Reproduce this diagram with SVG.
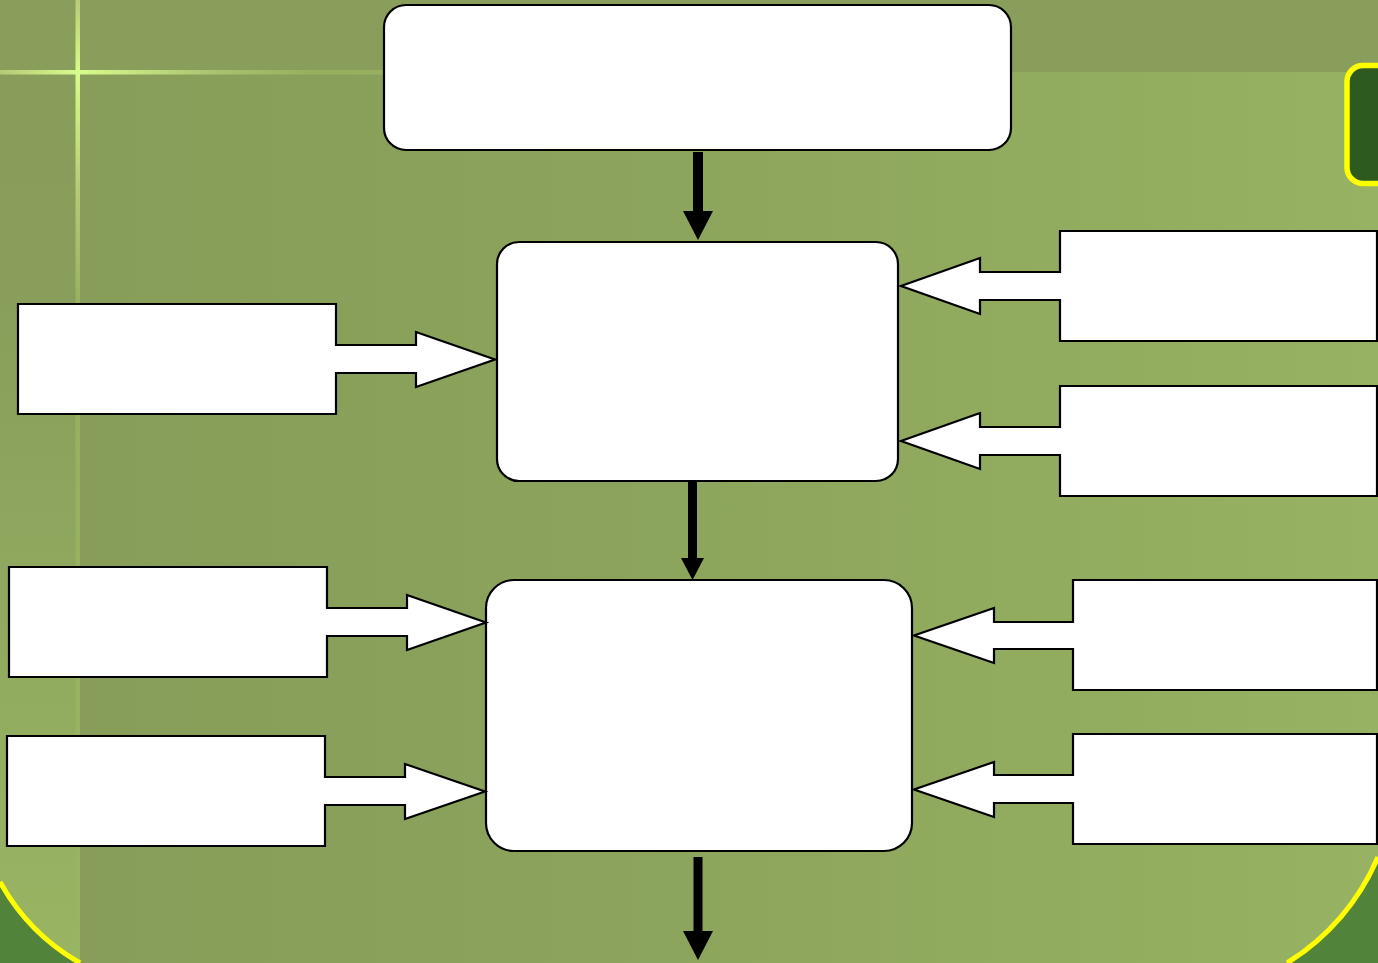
<svg xmlns="http://www.w3.org/2000/svg" width="1378" height="963" viewBox="0 0 1378 963">
<style>
.node{fill:#FFFFFF;stroke:#000000;stroke-width:2.2;stroke-linejoin:miter}
.rnode{fill:#FFFFFF;stroke:#000000;stroke-width:2.2}
.yel{fill:none;stroke:#FFFF00;stroke-width:5}
.shaft{fill:#000000}
</style>
<defs>
<linearGradient id="gMain" gradientUnits="userSpaceOnUse" x1="75" y1="0" x2="1378" y2="0">
<stop offset="0" stop-color="#879D59"/>
<stop offset="0.4" stop-color="#8BA35B"/>
<stop offset="1" stop-color="#97B262"/>
</linearGradient>
<linearGradient id="gLeft" gradientUnits="userSpaceOnUse" x1="0" y1="72" x2="0" y2="963">
<stop offset="0" stop-color="#879D59"/>
<stop offset="0.25" stop-color="#889E5A"/>
<stop offset="1" stop-color="#99B563"/>
</linearGradient>
<linearGradient id="gHLine" gradientUnits="userSpaceOnUse" x1="0" y1="0" x2="390" y2="0">
<stop offset="0" stop-color="#B5C977"/>
<stop offset="0.2" stop-color="#D8FC8C"/>
<stop offset="0.55" stop-color="#A9C271"/>
<stop offset="0.8" stop-color="#96B060"/>
<stop offset="1" stop-color="#96B060"/>
</linearGradient>
<linearGradient id="gVLine" gradientUnits="userSpaceOnUse" x1="0" y1="0" x2="0" y2="963">
<stop offset="0" stop-color="#B8CB78"/>
<stop offset="0.075" stop-color="#D8FC8C"/>
<stop offset="0.2" stop-color="#B5C977"/>
<stop offset="0.32" stop-color="#96B060"/>
<stop offset="1" stop-color="#99B463"/>
</linearGradient>
</defs>

<g id="background">
<rect x="0" y="0" width="1378" height="963" fill="#52833A"/>
<path d="M0 0 H1378 V857 A230 230 0 0 1 1287 963 H80 A210 210 0 0 1 0 882 Z" fill="url(#gMain)"/>
<path d="M0 72 H77 V963 H80 A210 210 0 0 1 0 882 Z" fill="url(#gLeft)"/>
<rect x="0" y="0" width="1378" height="72" fill="#889E5A"/>
<rect x="0" y="70" width="390" height="4.5" fill="url(#gHLine)"/>
<rect x="75.5" y="0" width="4.5" height="963" fill="url(#gVLine)"/>
<path class="yel" d="M0 882 A210 210 0 0 0 80 963"/>
<path class="yel" d="M1378 857 A230 230 0 0 1 1287 963"/>
<rect x="1347" y="65.5" width="100" height="118" rx="16" fill="#2D5A1E" stroke="#FFFF00" stroke-width="5.5"/>
</g>

<g id="connectors">
<rect class="shaft" x="693" y="152" width="10" height="60"/>
<polygon class="shaft" points="683,211 713,211 698,240"/>
<rect class="shaft" x="688" y="478" width="9" height="81"/>
<polygon class="shaft" points="681,558 704,558 692.5,580"/>
<rect class="shaft" x="693.5" y="857" width="9" height="76"/>
<polygon class="shaft" points="683,931 713,931 698,960"/>
</g>

<g id="node-top"><rect class="rnode" x="384" y="5" width="627" height="145" rx="22"/></g>
<g id="node-mid"><rect class="rnode" x="497" y="242" width="401" height="239" rx="22"/></g>
<g id="node-bottom"><rect class="rnode" x="486" y="580" width="426" height="271" rx="28"/></g>

<g id="input-left-1"><path class="node" d="M18 304 H336 V345 H416 V332 L495 359.5 L416 387 V373 H336 V414 H18 Z"/></g>
<g id="input-right-1"><path class="node" d="M1377 231 H1060 V272 H980 V258 L901 286 L980 314 V300 H1060 V341 H1377 Z"/></g>
<g id="input-right-2"><path class="node" d="M1377 386 H1060 V427 H980 V413 L901 441 L980 469 V455 H1060 V496 H1377 Z"/></g>
<g id="input-left-2"><path class="node" d="M9 567 H327 V608 H407 V595 L486 622.5 L407 650 V636 H327 V677 H9 Z"/></g>
<g id="input-left-3"><path class="node" d="M7 736 H325 V777 H405 V764 L485 791.5 L405 819 V805 H325 V846 H7 Z"/></g>
<g id="input-right-3"><path class="node" d="M1377 580 H1073 V622 H994 V608 L914 635.5 L994 663 V649 H1073 V690 H1377 Z"/></g>
<g id="input-right-4"><path class="node" d="M1377 734 H1073 V775 H994 V762 L914 789.5 L994 817 V803 H1073 V844 H1377 Z"/></g>
</svg>
